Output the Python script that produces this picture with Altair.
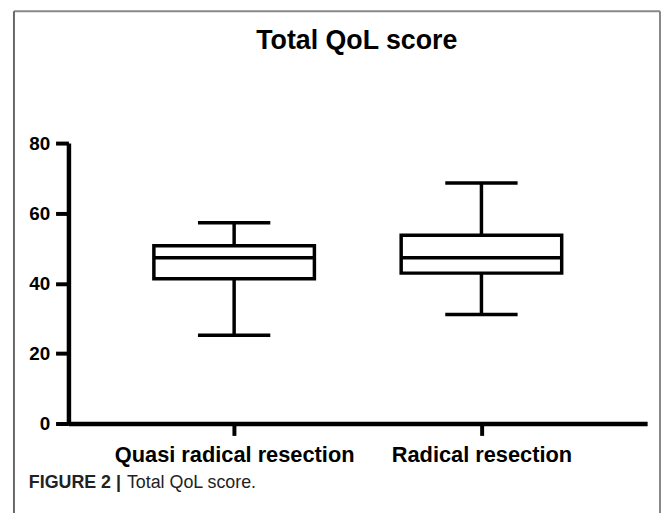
import altair as alt
import pandas as pd

# ---- data ----
categories = ["Quasi radical resection", "Radical resection"]
whisker_low = [25.2, 31.1]
q1 = [41.3, 42.9]
median = [47.3, 47.3]
q3 = [50.7, 53.7]
whisker_high = [57.3, 68.6]
y_ticks = [0, 20, 40, 60, 80]

df = pd.DataFrame({
    "group": categories,
    "lo": whisker_low,
    "q1": q1,
    "med": median,
    "q3": q3,
    "hi": whisker_high,
})
one = pd.DataFrame({"k": [0]})

FONT = "Liberation Sans"
W, H = 584, 283
SW = 3.5

x_enc = alt.X(
    "group:N",
    sort=categories,
    scale=alt.Scale(type="point", padding=0.67),
    axis=alt.Axis(
        title=None, labelAngle=0, labelFont=FONT, labelFontSize=22,
        labelFontWeight="bold", labelColor="black", labelPadding=9,
        labelLimit=0,
        tickSize=12, tickWidth=4, tickColor="black",
        domainColor="black", domainWidth=4.5, grid=False,
    ),
)
y_scale = alt.Scale(domain=[0, 80], nice=False)
y_axis = alt.Axis(
    title=None, values=y_ticks, labelFont=FONT, labelFontSize=19,
    labelFontWeight="bold", labelColor="black", labelPadding=6,
    tickSize=13, tickWidth=4, tickColor="black",
    domainColor="black", domainWidth=4.5, grid=False,
)

base = alt.Chart(df)

low_whisk = base.mark_rule(color="black", strokeWidth=SW).encode(
    x=x_enc, y=alt.Y("lo:Q", scale=y_scale, axis=y_axis), y2="q1:Q")
high_whisk = base.mark_rule(color="black", strokeWidth=SW).encode(
    x=x_enc, y=alt.Y("q3:Q", scale=y_scale, axis=y_axis), y2="hi:Q")
box = base.mark_bar(size=162, fill="white", stroke="black", strokeWidth=SW).encode(
    x=x_enc, y=alt.Y("q1:Q", scale=y_scale, axis=y_axis), y2="q3:Q")
med_tick = base.mark_tick(size=162, thickness=SW, color="black", opacity=1).encode(
    x=x_enc, y=alt.Y("med:Q", scale=y_scale, axis=y_axis))
lo_cap = base.mark_tick(size=73, thickness=SW, color="black", opacity=1).encode(
    x=x_enc, y=alt.Y("lo:Q", scale=y_scale, axis=y_axis))
hi_cap = base.mark_tick(size=73, thickness=SW, color="black", opacity=1).encode(
    x=x_enc, y=alt.Y("hi:Q", scale=y_scale, axis=y_axis))

# decorations: title, caption, frame
ann = alt.Chart(one)
title = ann.mark_text(text="Total QoL score", font=FONT, fontSize=27,
                      fontWeight="bold", color="black", align="center",
                      baseline="alphabetic").encode(
    x=alt.value(291), y=alt.value(-95))
cap_bold = ann.mark_text(text="FIGURE 2 |", font=FONT, fontSize=18,
                         fontWeight="bold", color="#222222", align="left",
                         baseline="alphabetic").encode(
    x=alt.value(-40), y=alt.value(348))
cap_reg = ann.mark_text(text="Total QoL score.", font=FONT, fontSize=18,
                        color="#222222", align="left",
                        baseline="alphabetic").encode(
    x=alt.value(59), y=alt.value(348))
frame_top = ann.mark_rule(color="#888888", strokeWidth=2).encode(
    x=alt.value(-55), x2=alt.value(597), y=alt.value(-133))
frame_left = ann.mark_rule(color="#666666", strokeWidth=2).encode(
    x=alt.value(-55), y=alt.value(-133), y2=alt.value(380))
frame_right = ann.mark_rule(color="#888888", strokeWidth=2).encode(
    x=alt.value(597), y=alt.value(-133), y2=alt.value(380))

chart = alt.layer(
    low_whisk, high_whisk, box, med_tick, lo_cap, hi_cap,
    title, cap_bold, cap_reg, frame_top, frame_left, frame_right,
).properties(
    width=W, height=H,
    padding={"left": 61, "top": 134, "right": 14, "bottom": 88},
    autosize=alt.AutoSizeParams(type="none"),
).configure_view(stroke=None)

chart.save("out.html", embed_options={"renderer": "svg", "actions": False})
